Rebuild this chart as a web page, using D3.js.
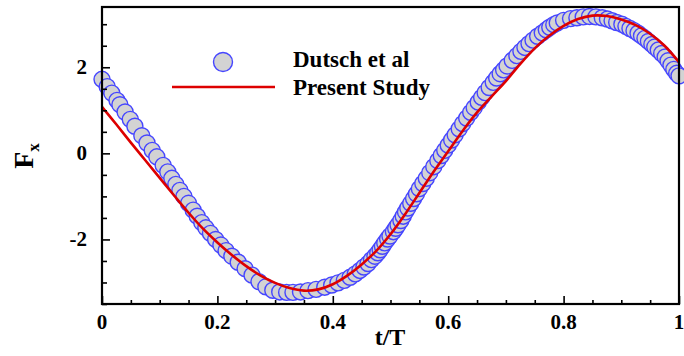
<!DOCTYPE html>
<html><head><meta charset="utf-8">
<script src="https://cdn.jsdelivr.net/npm/d3@7"></script>
<style>
html,body{margin:0;padding:0;background:#fff;}
text{font-family:"Liberation Serif","Times New Roman",serif;font-weight:bold;}
</style></head>
<body><svg id="chart" width="684" height="356"></svg>
<script>
// ---- data ----
const lineT = [0.000,0.025,0.050,0.075,0.100,0.125,0.150,0.175,0.200,0.225,0.250,0.275,0.300,0.325,0.350,0.375,0.400,0.425,0.450,0.475,0.500,0.525,0.550,0.575,0.600,0.625,0.650,0.675,0.700,0.725,0.750,0.775,0.800,0.825,0.850,0.875,0.900,0.925,0.950,0.975,1.000];
const lineF = [1.08,0.67,0.25,-0.16,-0.57,-0.98,-1.38,-1.75,-2.07,-2.36,-2.62,-2.84,-3.01,-3.13,-3.19,-3.16,-3.04,-2.84,-2.58,-2.27,-1.88,-1.42,-0.92,-0.42,0.05,0.52,0.95,1.32,1.68,2.08,2.44,2.73,2.96,3.12,3.20,3.19,3.11,2.98,2.78,2.50,2.12];

const expT = [0.000,0.009,0.017,0.026,0.031,0.040,0.049,0.057,0.069,0.078,0.087,0.095,0.106,0.114,0.121,0.128,
  0.135,0.142,0.150,0.158,0.165,0.173,0.180,0.188,0.197,0.206,0.215,0.225,0.236,0.248,0.260,0.272,0.284,
  0.296,0.308,0.320,0.331,0.344,0.357,0.371,0.386,0.398,0.409,0.420,0.430,0.439,0.447,0.454,0.461,0.467,0.473,0.478,0.482,0.486,0.490,0.495,0.499,0.505,0.509,0.513,0.518,0.522,0.526,0.530,
  0.535,0.540,0.545,0.550,0.556,0.562,0.568,0.575,0.582,0.588,0.594,0.600,0.606,0.612,0.619,0.625,0.632,0.639,0.645,
  0.652,0.658,0.664,0.671,0.678,0.684,0.690,0.696,0.702,0.711,0.719,0.726,0.733,0.740,0.747,0.755,0.763,0.770,0.776,0.783,0.789,0.800,0.812,0.823,
  0.834,0.845,0.856,0.867,0.876,0.884,0.892,0.901,0.908,0.915,0.922,0.929,0.935,0.941,0.947,0.953,0.958,0.964,0.970,0.976,0.981,0.986,0.991,0.996,1.000];
const expF = [1.72,1.55,1.40,1.23,1.13,0.96,0.79,0.63,0.41,0.24,0.07,-0.08,-0.28,-0.43,-0.58,-0.72,
  -0.86,-1.00,-1.16,-1.32,-1.46,-1.61,-1.73,-1.86,-2.00,-2.13,-2.26,-2.39,-2.53,-2.68,-2.83,-2.98,-3.10,
  -3.18,-3.22,-3.23,-3.23,-3.22,-3.19,-3.16,-3.11,-3.06,-3.01,-2.95,-2.88,-2.80,-2.72,-2.64,-2.56,-2.47,-2.39,-2.31,-2.24,-2.16,-2.08,-1.99,-1.92,-1.82,-1.74,-1.66,-1.56,-1.46,-1.36,-1.27,
  -1.16,-1.05,-0.94,-0.82,-0.70,-0.58,-0.45,-0.31,-0.17,-0.05,0.07,0.19,0.31,0.43,0.57,0.69,0.82,0.95,1.06,
  1.19,1.30,1.41,1.53,1.65,1.75,1.85,1.94,2.03,2.16,2.27,2.37,2.46,2.55,2.63,2.72,2.80,2.87,2.93,2.99,3.03,3.09,3.13,3.15,
  3.17,3.18,3.17,3.15,3.12,3.08,3.04,3.00,2.95,2.90,2.85,2.79,2.73,2.67,2.60,2.53,2.47,2.40,2.32,2.24,2.15,2.05,1.95,1.86,1.80];

const xMajor = [0,0.2,0.4,0.6,0.8,1];
const xLabels = ["0","0.2","0.4","0.6","0.8","1"];
const yMajor = [-2,0,2];
const yLabels = ["-2","0","2"];
const seriesNames = ["Dutsch et al","Present Study"];

// ---- layout ----
const W = 684, H = 356;
const m = {left:102, right:5, top:7, bottom:52};
const svg = d3.select("#chart");
const x = d3.scaleLinear().domain([0,1]).range([m.left, W-m.right]);
const y = d3.scaleLinear().domain([-3.5,3.4]).range([H-m.bottom, m.top]);

const markerFill = "#d3d3d3", markerStroke = "#4646ff", lineColor = "#dd0000";

// experimental markers
const expData = expT.map((t,i)=>({t, f:expF[i]}));
svg.append("g").selectAll("circle").data(expData).join("circle")
  .attr("cx", d=>x(d.t)).attr("cy", d=>y(d.f)).attr("r", 8)
  .attr("fill", markerFill).attr("stroke", markerStroke).attr("stroke-width", 1.4);

// present study line
const lineData = lineT.map((t,i)=>({t, f:lineF[i]}));
svg.append("path").datum(lineData)
  .attr("fill","none").attr("stroke",lineColor).attr("stroke-width",2.6)
  .attr("d", d3.line().x(d=>x(d.t)).y(d=>y(d.f)).curve(d3.curveCatmullRom));

// axes
const xAxis = d3.axisBottom(x).tickValues(d3.range(0,1.0001,0.05)).tickSize(0).tickFormat("");
const gx = svg.append("g").attr("transform",`translate(0,${H-m.bottom})`).call(xAxis);
gx.select(".domain").remove();
gx.selectAll(".tick line").remove();
gx.selectAll(".tick").append("line")
  .attr("y1",0).attr("y2", d=> xMajor.some(v=>Math.abs(v-d)<1e-6) ? -8 : -4)
  .attr("stroke","#000").attr("stroke-width",1.6);
svg.append("g").selectAll("text").data(xMajor).join("text")
  .attr("x", d=>x(d)).attr("y", H-m.bottom+25).attr("text-anchor","middle")
  .attr("font-size",21).attr("fill","#000").text((d,i)=>xLabels[i]);

const yAxis = d3.axisLeft(y).tickValues(d3.range(-3.5,3.4,0.5)).tickSize(0).tickFormat("");
const gy = svg.append("g").attr("transform",`translate(${m.left},0)`).call(yAxis);
gy.select(".domain").remove();
gy.selectAll(".tick line").remove();
gy.selectAll(".tick").append("line")
  .attr("x1",0).attr("x2", d=> yMajor.some(v=>Math.abs(v-d)<1e-6) ? 8 : 5)
  .attr("stroke","#000").attr("stroke-width",1.6);
svg.append("g").selectAll("text").data(yMajor).join("text")
  .attr("x", m.left-15).attr("y", d=>y(d)+7).attr("text-anchor","end")
  .attr("font-size",21).attr("fill","#000").text((d,i)=>yLabels[i]);

// frame
svg.append("rect").attr("x",m.left).attr("y",m.top)
  .attr("width",W-m.left-m.right).attr("height",H-m.top-m.bottom)
  .attr("fill","none").attr("stroke","#000").attr("stroke-width",2.2);

// axis titles
svg.append("text").attr("x",390).attr("y",345).attr("text-anchor","middle")
  .attr("font-size",24).attr("fill","#000").text("t/T");
const yt = svg.append("text").attr("transform","translate(33,156) rotate(-90)")
  .attr("text-anchor","middle").attr("font-size",28).attr("fill","#000");
yt.append("tspan").text("F");
yt.append("tspan").attr("font-size",17).attr("dy",6).text("x");

// legend
const leg = svg.append("g");
leg.append("circle").attr("cx",223).attr("cy",62).attr("r",9.5)
  .attr("fill",markerFill).attr("stroke",markerStroke).attr("stroke-width",1.4);
leg.append("line").attr("x1",172).attr("x2",275).attr("y1",87).attr("y2",87)
  .attr("stroke",lineColor).attr("stroke-width",2.6);
leg.append("text").attr("x",293).attr("y",67).attr("font-size",23).attr("fill","#000").text(seriesNames[0]);
leg.append("text").attr("x",293).attr("y",95).attr("font-size",23).attr("fill","#000").text(seriesNames[1]);
</script></body></html>
